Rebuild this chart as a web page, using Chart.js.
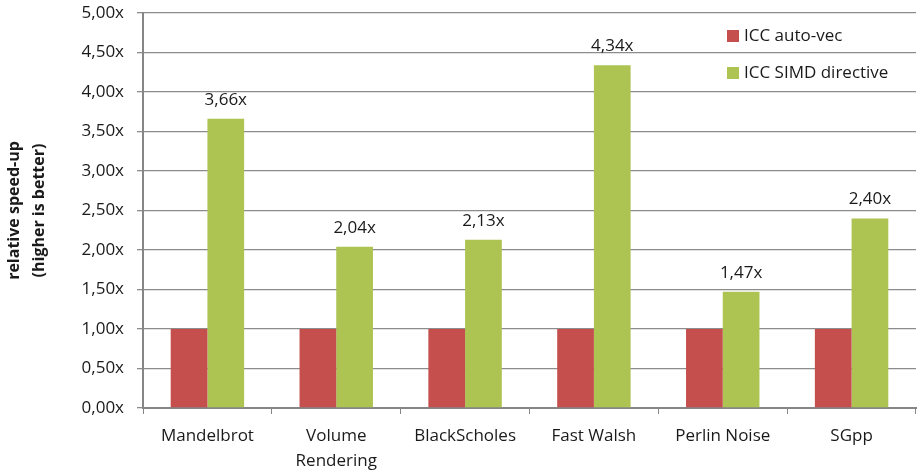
<!DOCTYPE html>
<html>
<head>
<meta charset="utf-8">
<script src="https://cdn.jsdelivr.net/npm/chart.js@4"></script>
<style>
  html, body { margin: 0; padding: 0; background: #fff; }
  #wrap { width: 917px; height: 475px; position: relative; }
</style>
</head>
<body>
<div id="wrap"><canvas id="c"></canvas></div>
<script>
// ── speed-up chart data ──────────────────────────────────────────────
const categories = ['Mandelbrot', ['Volume', 'Rendering'], 'BlackScholes', 'Fast Walsh', 'Perlin Noise', 'SGpp'];
const autoVec = [1.00, 1.00, 1.00, 1.00, 1.00, 1.00];
const simdDirective = [3.66, 2.04, 2.13, 4.34, 1.47, 2.40];
const yTicks = [0, 0.5, 1, 1.5, 2, 2.5, 3, 3.5, 4, 4.5, 5];

const FONT = '"Open Sans", "Liberation Sans", sans-serif';
const SIZE = 17;
const fmt = v => v.toFixed(2).replace('.', ',') + 'x';

// labels above the green bars
const valueLabels = {
    id: 'valueLabels',
    afterDatasetsDraw(chart) {
        const ctx = chart.ctx;
        const meta = chart.getDatasetMeta(1);
        ctx.save();
        ctx.font = SIZE + 'px ' + FONT;
        ctx.fillStyle = '#1a1a1a';
        ctx.textAlign = 'center';
        ctx.textBaseline = 'middle';
        meta.data.forEach((bar, i) => {
            ctx.fillText(fmt(simdDirective[i]), bar.x, bar.y - 19);
        });
        ctx.restore();
    }
};

// legend drawn inside the plot, top right
const insideLegend = {
    id: 'insideLegend',
    afterDraw(chart) {
        const ctx = chart.ctx;
        ctx.save();
        ctx.font = SIZE + 'px ' + FONT;
        ctx.textBaseline = 'middle';
        ctx.textAlign = 'left';
        chart.data.datasets.forEach((ds, i) => {
            const y = 36 + i * 37;
            ctx.fillStyle = ds.backgroundColor;
            ctx.fillRect(727, y - 6, 12, 12);
            ctx.fillStyle = '#1a1a1a';
            ctx.fillText(ds.label, 744, y);
        });
        ctx.restore();
    }
};

new Chart(document.getElementById('c'), {
    type: 'bar',
    data: {
        labels: categories,
        datasets: [
            { label: 'ICC auto-vec', data: autoVec, backgroundColor: '#C44F4D' },
            { label: 'ICC SIMD directive', data: simdDirective, backgroundColor: '#ADC352' }
        ]
    },
    options: {
        responsive: true,
        maintainAspectRatio: false,
        animation: false,
        devicePixelRatio: 1,
        layout: { padding: { top: 13, right: 1, left: 0, bottom: 0 } },
        datasets: { bar: { categoryPercentage: 0.57, barPercentage: 1.0 } },
        plugins: {
            legend: { display: false },
            tooltip: { enabled: false }
        },
        scales: {
            x: {
                afterFit: s => { s.height = 67; },
                grid: { offset: true, drawOnChartArea: false, drawTicks: true, tickLength: 6, color: '#868686' },
                border: { color: '#868686', width: 2 },
                ticks: { color: '#1a1a1a', font: { family: FONT, size: SIZE, lineHeight: 1.45 }, padding: 10, maxRotation: 0 }
            },
            y: {
                min: 0,
                max: 5,
                afterFit: s => { s.width = 143; s.paddingTop = 0; s.paddingBottom = 0; },
                afterBuildTicks: s => { s.ticks = yTicks.map(v => ({ value: v })); },
                grid: { color: '#8c8c8c', tickLength: 6, lineWidth: 1.3 },
                border: { color: '#868686', width: 2 },
                ticks: {
                    color: '#1a1a1a',
                    font: { family: FONT, size: SIZE },
                    padding: 13,
                    callback: v => fmt(v)
                },
                title: {
                    display: true,
                    text: ['relative speed-up', '(higher is better)'],
                    color: '#1a1a1a',
                    font: { family: FONT, size: 16, weight: 'bold', lineHeight: 1.55 },
                    padding: { top: 2, bottom: 0 }
                }
            }
        }
    },
    plugins: [valueLabels, insideLegend]
});
</script>
</body>
</html>
